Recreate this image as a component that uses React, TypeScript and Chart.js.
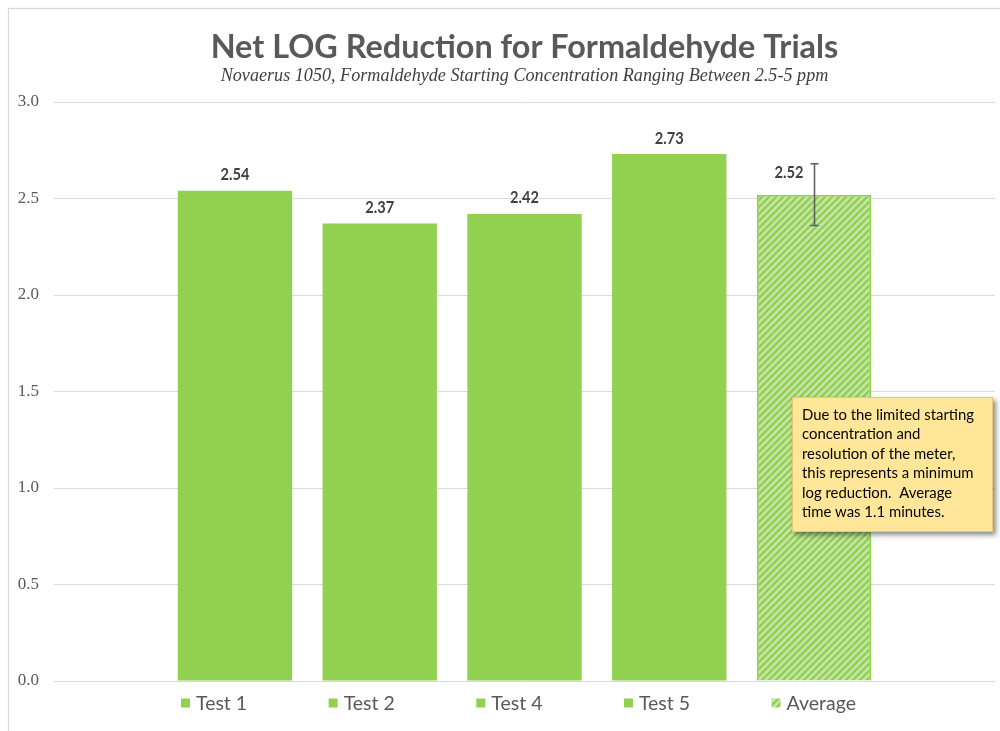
import React, { useEffect, useRef } from "react";
import { Chart, registerables } from "chart.js";

Chart.register(...registerables);

// ---- data ----
const categories = ["Test 1", "Test 2", "Test 4", "Test 5", "Average"];
const xPositions = [1, 2, 3, 4, 5];
const netLogReduction = [2.54, 2.37, 2.42, 2.73, 2.52];
const errorAmount = [0, 0, 0, 0, 0.16];
const hatched = [false, false, false, false, true];
const yTickValues = [0, 0.5, 1, 1.5, 2, 2.5, 3];
const titleText = "Net LOG Reduction for Formaldehyde Trials";
const subtitleText =
  "Novaerus 1050, Formaldehyde Starting Concentration Ranging Between 2.5-5 ppm";
const noteLines = [
  "Due to the limited starting",
  "concentration and",
  "resolution of the meter,",
  "this represents a minimum",
  "log reduction.  Average",
  "time was 1.1 minutes.",
];

// ---- styles ----
const GREEN = "#92D050";
const HATCH_BG = "#C6E4AB";
const SANS = "Lato";
const SERIF = "'Liberation Serif'";

function measure(font: string, text: string): number {
  const c = document.createElement("canvas").getContext("2d")!;
  c.font = font;
  return c.measureText(text).width;
}

function makeHatch(): CanvasPattern {
  const s = 7;
  const c = document.createElement("canvas");
  c.width = s;
  c.height = s;
  const g = c.getContext("2d")!;
  g.fillStyle = HATCH_BG;
  g.fillRect(0, 0, s, s);
  g.strokeStyle = GREEN;
  g.lineWidth = 2.4;
  g.beginPath();
  g.moveTo(-1, s + 1);
  g.lineTo(s + 1, -1);
  g.moveTo(-2, 2);
  g.lineTo(2, -2);
  g.moveTo(s - 2, s + 2);
  g.lineTo(s + 2, s - 2);
  g.stroke();
  return g.createPattern(c, "repeat")!;
}

function drawScaledText(
  ctx: CanvasRenderingContext2D,
  text: string,
  x: number,
  y: number,
  sx: number,
  align: CanvasTextAlign
) {
  ctx.save();
  ctx.translate(x, y);
  ctx.scale(sx, 1);
  ctx.textAlign = align;
  ctx.fillText(text, 0, 0);
  ctx.restore();
}

export default function App() {
  const ref = useRef<HTMLCanvasElement | null>(null);

  useEffect(() => {
    const canvas = ref.current;
    if (!canvas) return;
    const hatch = makeHatch();

    const titleSize = (100 * 628) / measure(`bold 100px ${SANS}`, titleText);
    const subSize = (100 * 608) / measure(`italic 100px ${SERIF}`, subtitleText);
    const titleLH = 1.1;
    const subLH = 1.2;
    const titlePadTop = 48 - (titleSize * titleLH) / 2;
    const titleBottom = titlePadTop + titleSize * titleLH;
    const subPadTop = Math.max(0, 76 - (subSize * subLH) / 2 - titleBottom);
    const subBottom = titleBottom + subPadTop + subSize * subLH;
    const subPadBottom = Math.max(0, 102 - subBottom);

    const frame = {
      id: "frame",
      beforeDraw(chart: any) {
        const ctx = chart.ctx;
        ctx.save();
        ctx.fillStyle = "#ffffff";
        ctx.fillRect(0, 0, chart.width, chart.height);
        ctx.strokeStyle = "#D9D9D9";
        ctx.lineWidth = 1.2;
        ctx.strokeRect(8.5, 8.5, chart.width + 40, chart.height + 40);
        ctx.restore();
      },
    };

    const errorBars = {
      id: "errorBars",
      afterDatasetsDraw(chart: any) {
        const ctx = chart.ctx;
        const y = chart.scales.y;
        const meta = chart.getDatasetMeta(0);
        ctx.save();
        ctx.strokeStyle = "#5A5A5A";
        ctx.lineWidth = 1.5;
        meta.data.forEach((bar: any, i: number) => {
          const e = errorAmount[i];
          if (!e) return;
          const top = y.getPixelForValue(netLogReduction[i] + e);
          const bot = y.getPixelForValue(netLogReduction[i] - e);
          const x = Math.round(bar.x) + 0.5;
          ctx.beginPath();
          ctx.moveTo(x, top);
          ctx.lineTo(x, bot);
          ctx.moveTo(x - 4, top);
          ctx.lineTo(x + 4, top);
          ctx.moveTo(x - 4, bot);
          ctx.lineTo(x + 4, bot);
          ctx.stroke();
        });
        ctx.restore();
      },
    };

    const valueLabels = {
      id: "valueLabels",
      afterDatasetsDraw(chart: any) {
        const ctx = chart.ctx;
        const meta = chart.getDatasetMeta(0);
        ctx.save();
        ctx.font = `bold 17px ${SANS}`;
        ctx.fillStyle = "#404040";
        ctx.textBaseline = "middle";
        meta.data.forEach((bar: any, i: number) => {
          const dx = errorAmount[i] ? -25 : 0;
          const dy = errorAmount[i] ? 22 : 16;
          drawScaledText(ctx, netLogReduction[i].toFixed(2), bar.x + dx, bar.y - dy, 0.86, "center");
        });
        ctx.restore();
      },
    };

    const customLegend = {
      id: "customLegend",
      afterDraw(chart: any) {
        const ctx = chart.ctx;
        const sx = 1.0;
        const font = `19.5px ${SANS}`;
        ctx.save();
        ctx.font = font;
        const box = 9;
        const gapBox = 6;
        const widths = categories.map((c) => box + gapBox + ctx.measureText(c).width * sx);
        const start = 181;
        const end = 856;
        const total = widths.reduce((a, b) => a + b, 0);
        const gap = (end - start - total) / (categories.length - 1);
        let x = start;
        const yc = 703;
        ctx.textBaseline = "middle";
        categories.forEach((c, i) => {
          ctx.fillStyle = hatched[i] ? hatch : GREEN;
          ctx.fillRect(x, yc - box / 2, box, box);
          ctx.fillStyle = "#595959";
          drawScaledText(ctx, c, x + box + gapBox, yc + 1, sx, "left");
          x += widths[i] + gap;
        });
        ctx.restore();
      },
    };

    const note = {
      id: "note",
      afterDraw(chart: any) {
        const ctx = chart.ctx;
        const bx = 792, by = 397, bw = 201, bh = 135;
        ctx.save();
        ctx.shadowColor = "rgba(0,0,0,0.45)";
        ctx.shadowBlur = 5;
        ctx.shadowOffsetX = 3;
        ctx.shadowOffsetY = 3;
        ctx.fillStyle = "#FFE699";
        ctx.fillRect(bx, by, bw, bh);
        ctx.restore();
        ctx.save();
        ctx.strokeStyle = "#EDC76E";
        ctx.lineWidth = 1;
        ctx.strokeRect(bx + 0.5, by + 0.5, bw - 1, bh - 1);
        const font = `15.5px ${SANS}`;
        ctx.font = font;
        const sx = 172 / ctx.measureText(noteLines[0]).width;
        ctx.fillStyle = "#000000";
        ctx.textBaseline = "middle";
        noteLines.forEach((line, i) => {
          drawScaledText(ctx, line, bx + 10, by + 18 + i * 19.4, sx, "left");
        });
        ctx.restore();
      },
    };

    const chart = new Chart(canvas, {
      type: "bar",
      data: {
        labels: categories,
        datasets: [
          {
            label: "Net LOG Reduction",
            data: xPositions.map((x, i) => ({ x, y: netLogReduction[i] })),
            backgroundColor: hatched.map((h) => (h ? hatch : GREEN)) as any,
            borderColor: GREEN,
            borderWidth: hatched.map((h) => (h ? 2 : 0)) as any,
            barPercentage: 0.79,
            categoryPercentage: 1,
          },
        ],
      },
      options: {
        animation: false,
        responsive: false,
        devicePixelRatio: 1,
        layout: { padding: { left: 15, right: 5, top: 0, bottom: 50 } },
        plugins: {
          legend: { display: false },
          tooltip: { enabled: false },
          title: {
            display: true,
            fullSize: false,
            text: titleText,
            color: "#595959",
            font: { family: SANS, size: titleSize, weight: "bold", lineHeight: titleLH },
            padding: { top: titlePadTop, bottom: 0 },
          },
          subtitle: {
            display: true,
            fullSize: false,
            text: subtitleText,
            color: "#404040",
            font: { family: SERIF, size: subSize, style: "italic", lineHeight: subLH },
            padding: { top: subPadTop, bottom: subPadBottom },
          },
        },
        scales: {
          x: {
            type: "linear",
            min: -0.25,
            max: 6.25,
            offset: false,
            display: false,
          },
          y: {
            min: 0,
            max: 3,
            afterFit: (s: any) => {
              s.width = 39;
            },
            afterBuildTicks: (s: any) => {
              s.ticks = yTickValues.map((v) => ({ value: v }));
            },
            ticks: {
              padding: 15,
              color: "#595959",
              font: { family: SERIF, size: 17 },
              callback: (v: any) => Number(v).toFixed(1),
            },
            grid: { color: "#D9D9D9", lineWidth: 1, drawTicks: false },
            border: { display: false },
          },
        },
      },
      plugins: [frame, errorBars, valueLabels, customLegend, note],
    });

    return () => chart.destroy();
  }, []);

  return (
    <div style={{ position: "fixed", left: 0, top: 0, width: 1000, height: 731, background: "#fff" }}>
      <canvas ref={ref} width={1000} height={731} style={{ display: "block" }} />
    </div>
  );
}
